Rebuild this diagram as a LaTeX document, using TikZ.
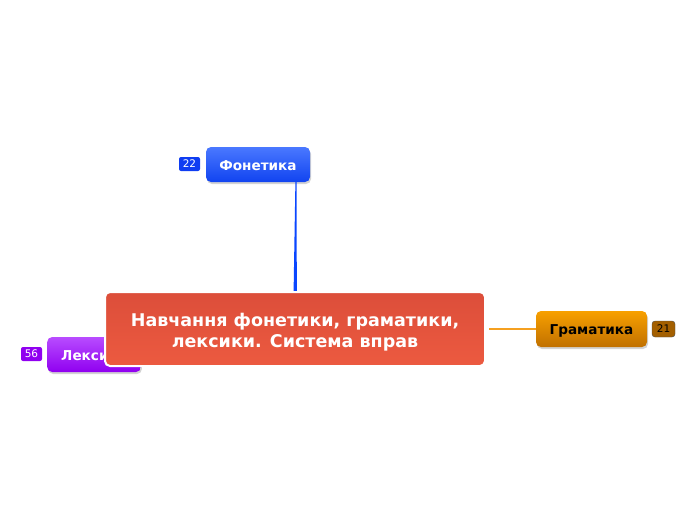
\documentclass[tikz,border=0pt]{standalone}
\usepackage{fontspec}
\setmainfont{DejaVu Sans}
\usetikzlibrary{shadows,calc}
\definecolor{fonT}{HTML}{4A78FF}
\definecolor{fonB}{HTML}{1144F0}
\definecolor{graT}{HTML}{F8A000}
\definecolor{graB}{HTML}{C07000}
\definecolor{lexT}{HTML}{B84CFF}
\definecolor{lexB}{HTML}{9000F0}
\definecolor{cenT}{HTML}{DC4E3A}
\definecolor{cenB}{HTML}{EC5A40}
\definecolor{lineblue}{HTML}{0A46FF}
\definecolor{lineorange}{HTML}{F5A020}
\newcommand{\dn}[2]{\raisebox{-#1}[\height][\depth]{#2}}
\tikzset{
  x=1pt,y=-1pt,
  topic/.style={rounded corners=5pt, inner sep=0pt, font=\bfseries\fontsize{13.6}{15}\selectfont,
    drop shadow={opacity=0.35, shadow xshift=1pt, shadow yshift=-2pt}},
  badge/.style={rounded corners=2pt, inner sep=0pt, minimum width=21pt, minimum height=14pt,
    font=\fontsize{10.5}{12}\selectfont},
}
\begin{document}
\begin{tikzpicture}
\useasboundingbox (0,0) rectangle (696,520);
% Fonetika
\node[topic, top color=fonT, bottom color=fonB, text=white, minimum width=104pt, minimum height=35pt] (fon) at (258,164.5) {\dn{1.5pt}{Фонетика}};
\node[badge, fill=fonB!90!blue, text=white] (b22) at (189.5,164) {22};
% Leksyka
\node[topic, top color=lexT, bottom color=lexB, text=white, minimum width=93pt, minimum height=35pt, anchor=west, align=left] (lex) at (47,354.5) {\hspace{14pt}\dn{1.5pt}{Лексика}\hspace{14pt}};
\node[badge, fill=lexB, text=white] (b56) at (31.5,354) {56};
% Gramatyka
\node[topic, top color=graT, bottom color=graB, text=black, minimum width=111pt, minimum height=36pt] (gra) at (591.5,329) {\dn{1.5pt}{Граматика}};
\node[badge, fill=graB!85!black, draw=black!70, rounded corners=3pt, text=black, minimum width=23pt, minimum height=16pt] (b21) at (663.5,329) {21};
% connectors
\fill[lineblue] ($(fon.south)+(37.4,0)$) -- ($(fon.south)+(38.6,0)$) -- (296.8,291) -- (293.6,291) -- cycle;
% center
\node[rounded corners=5pt, top color=cenT, bottom color=cenB, draw=white, line width=2pt, text=white,
  minimum width=380pt, minimum height=74pt, align=center,
  font=\bfseries\fontsize{17.5}{21}\selectfont] (cen) at (295,329) {\dn{3pt}{Навчання фонетики, граматики,}\\\dn{3pt}{лексики. Система вправ}};
\draw[lineorange, line width=1.5pt] (cen.east) ++(3,0) coordinate (ce) -- (gra.west);
\end{tikzpicture}
\end{document}
